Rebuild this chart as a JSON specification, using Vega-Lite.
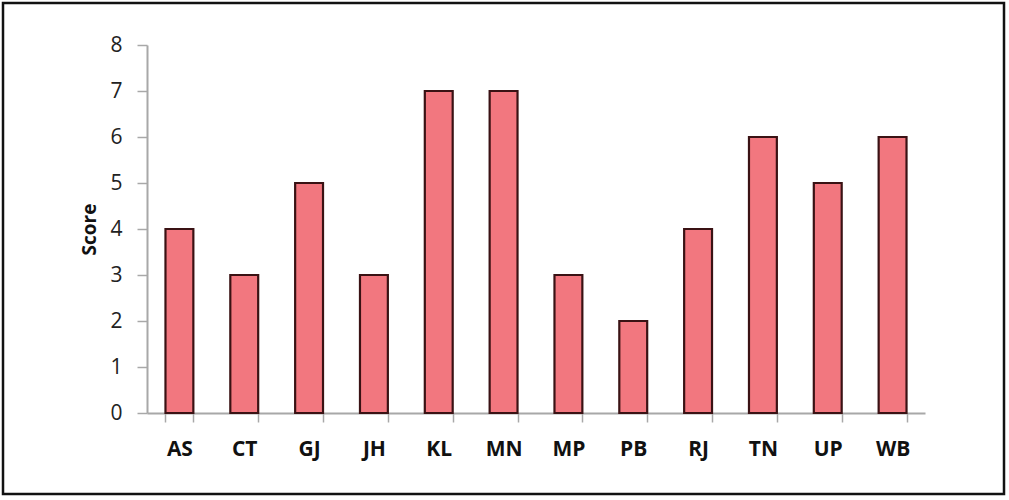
{
  "$schema": "https://vega.github.io/schema/vega-lite/v6.json",
  "width": 1001,
  "height": 491,
  "autosize": {"type": "none"},
  "padding": {"left": 3, "top": 3, "right": 5, "bottom": 6},
  "background": "#ffffff",
  "config": {
    "view": {"stroke": "#111111", "strokeWidth": 2.5},
    "font": "Open Sans",
    "axis": {"grid": false}
  },
  "data": {
    "values": [
      {"state": "AS", "score": 4},
      {"state": "CT", "score": 3},
      {"state": "GJ", "score": 5},
      {"state": "JH", "score": 3},
      {"state": "KL", "score": 7},
      {"state": "MN", "score": 7},
      {"state": "MP", "score": 3},
      {"state": "PB", "score": 2},
      {"state": "RJ", "score": 4},
      {"state": "TN", "score": 6},
      {"state": "UP", "score": 5},
      {"state": "WB", "score": 6}
    ]
  },
  "mark": {"type": "bar", "fill": "#F2777F", "stroke": "#3a1214", "strokeWidth": 2.2},
  "encoding": {
    "x": {
      "field": "state",
      "type": "nominal",
      "sort": null,
      "scale": {"range": [144, 922], "paddingInner": 0.57, "paddingOuter": 0.285},
      "axis": {
        "title": null,
        "offset": -81,
        "labelAngle": 0,
        "labelFont": "Open Sans",
        "labelFontWeight": "bold",
        "labelFontSize": 21,
        "labelColor": "#111111",
        "labelPadding": 16,
        "tickBand": "extent",
        "tickSize": 9,
        "tickColor": "#a8a8a8",
        "tickWidth": 1.5,
        "domainColor": "#a8a8a8",
        "domainWidth": 2
      }
    },
    "y": {
      "field": "score",
      "type": "quantitative",
      "scale": {"domain": [0, 8], "range": [410, 42], "nice": false},
      "axis": {
        "title": "Score",
        "offset": -144,
        "values": [0, 1, 2, 3, 4, 5, 6, 7, 8],
        "labelOverlap": false,
        "labelFont": "Open Sans",
        "labelFontSize": 21,
        "labelColor": "#222222",
        "labelPadding": 15,
        "tickSize": 10,
        "tickColor": "#a8a8a8",
        "tickWidth": 1.5,
        "domainColor": "#a8a8a8",
        "domainWidth": 2,
        "titleFont": "Open Sans",
        "titleFontSize": 19,
        "titleFontWeight": "bold",
        "titleColor": "#111111",
        "titlePadding": 10
      }
    }
  }
}
